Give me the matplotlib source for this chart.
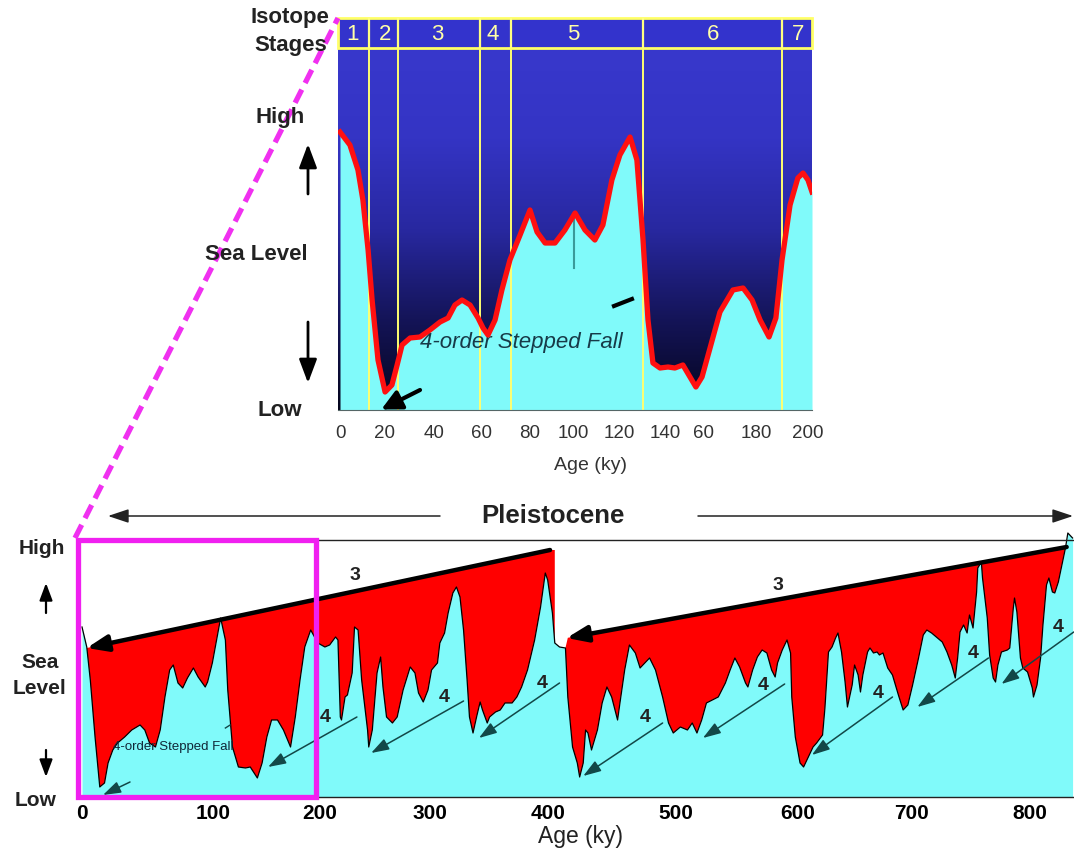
import numpy as np
import matplotlib
matplotlib.use('Agg')
import matplotlib.pyplot as plt
from matplotlib.colors import LinearSegmentedColormap
from matplotlib.patches import Rectangle

plt.rcParams['font.family'] = ['Liberation Sans', 'DejaVu Sans']

# ---- top panel: last 200 ky (age ky, relative sea level) ----
top_curve = [(0, 278), (4.2, 265), (7.6, 240), (9.7, 210), (11.9, 160), (13.6, 110),
             (16.1, 50), (19.1, 18), (22, 25), (24.2, 45), (26.3, 65), (29.7, 72),
             (33.9, 73), (38.1, 80), (42.4, 88), (45.8, 92), (48.7, 105), (51.7, 110),
             (55.1, 105), (58.5, 92), (60.6, 82), (62.7, 75), (65.7, 90), (68.6, 120),
             (72, 150), (76.3, 175), (80.5, 200), (83.5, 178), (86.9, 167), (91.1, 167),
             (95.3, 180), (99.6, 197), (103.8, 180), (108, 170), (111.4, 185), (115.2, 230),
             (118.6, 255), (122.9, 273), (125.8, 250), (128.4, 170), (130.5, 90), (132.6, 47),
             (135.6, 42), (139, 43), (141.9, 42), (145.3, 45), (148.3, 33), (150.8, 23),
             (153.4, 33), (156.8, 62), (161, 98), (166.5, 120), (170.8, 122), (174.6, 110),
             (178, 90), (181.8, 73), (184.7, 92), (187.3, 150), (190.7, 205), (194, 232),
             (196.2, 237), (198.3, 230), (200, 218)]
stage_bounds = [12.3, 24.6, 59.3, 72.4, 128.4, 187.3]
stage_names = ['1', '2', '3', '4', '5', '6', '7']
stage_pos = [5.5, 19.1, 41.1, 64.8, 98.7, 158, 194]
top_tick_pos = [0.4, 19, 40, 60, 80.5, 99, 118.5, 138, 154, 176.5, 198]
top_tick_lab = ['0', '20', '40', '60', '80', '100', '120', '140', '60', '180', '200']

# ---- bottom panel: Pleistocene record ----
bottom_curve = [(0, 170), (4, 150), (7, 117), (11, 60), (15, 10), (19, 14), (22, 34), (26, 47),
                (30, 54), (36, 60), (42, 67), (49, 72), (53, 67), (57, 54), (62, 50), (66, 67),
                (70, 100), (74, 127), (77, 132), (81, 114), (85, 109), (89, 119), (94, 129),
                (98, 120), (104, 110), (106, 115), (110, 134), (114, 160), (117, 179), (121, 157),
                (123, 107), (127, 50), (132, 30), (138, 29), (142, 30), (148, 19), (152, 34),
                (156, 60), (160, 77), (165, 77), (170, 67), (176, 50), (180, 80), (184, 117),
                (188, 150), (193, 167), (199, 154), (205, 150), (209, 152), (214, 160), (216, 157),
                (218, 80), (219, 77), (222, 100), (224, 102), (228, 124), (230, 170), (233, 167),
                (236, 117), (241, 67), (242, 50), (245, 67), (249, 124), (252, 140), (254, 110),
                (257, 80), (262, 74), (266, 80), (271, 107), (277, 130), (281, 124), (284, 104),
                (288, 95), (292, 107), (295, 127), (300, 134), (302, 154), (306, 164), (309, 184),
                (313, 204), (316, 210), (319, 200), (322, 167), (325, 117), (327, 80), (330, 64),
                (333, 80), (336, 95), (338, 87), (342, 74), (344, 80), (349, 85), (353, 87),
                (357, 94), (363, 94), (367, 100), (371, 110), (376, 127), (382, 157), (387, 190),
                (391, 224), (393, 217), (397, 184), (399, 154), (403, 150), (408, 149), (410, 100),
                (414, 50), (418, 34), (420, 20), (423, 34), (425, 67), (427, 64), (430, 47),
                (435, 67), (439, 94), (443, 110), (447, 100), (452, 77), (454, 94), (458, 127),
                (462, 152), (467, 144), (471, 129), (475, 134), (479, 139), (484, 127), (490, 100),
                (495, 74), (499, 64), (505, 70), (511, 67), (515, 74), (519, 64), (523, 77),
                (527, 94), (532, 97), (537, 100), (543, 114), (547, 127), (551, 139), (555, 130),
                (560, 114), (562, 110), (566, 127), (570, 140), (574, 147), (578, 144), (582, 127),
                (585, 120), (587, 134), (591, 147), (595, 157), (598, 144), (599, 100), (602, 60),
                (606, 34), (609, 30), (613, 40), (617, 50), (620, 54), (625, 62), (627, 89),
                (630, 145), (633, 150), (636, 159), (638, 164), (641, 145), (644, 115), (646, 90),
                (650, 112), (652, 132), (655, 122), (657, 105), (659, 122), (663, 145), (665, 149),
                (668, 144), (671, 145), (673, 142), (676, 144), (680, 129), (684, 122), (689, 102),
                (693, 87), (697, 92), (701, 112), (706, 139), (710, 162), (713, 167), (717, 164),
                (722, 159), (726, 155), (730, 145), (734, 132), (737, 119), (739, 139), (741, 165),
                (744, 172), (747, 164), (749, 182), (752, 169), (755, 205), (756, 229), (759, 235),
                (760, 219), (764, 179), (766, 142), (769, 119), (771, 115), (773, 132), (776, 145),
                (781, 147), (783, 149), (786, 189), (787, 199), (789, 185), (792, 139), (794, 129),
                (798, 125), (802, 109), (803, 100), (806, 112), (809, 139), (811, 172), (814, 212),
                (816, 219), (819, 205), (821, 204), (824, 215), (827, 232), (830, 249), (832, 264),
                (836, 259)]
# 3rd-order envelopes: (age0, level0, age1, level1, red fill end, label age, label level)
third_order = [(4, 149, 395, 247, 399, 230, 221),
               (409, 159, 831, 250, 831, 587, 211)]
# 4th-order stepped falls: start, end, label position
fourth_order = [(40.5, 15, 17.7, 2, None, None),
                (232, 80, 157, 30, 205, 79),
                (322, 96, 244, 44, 306, 100),
                (403, 114, 335, 59, 388, 113),
                (490, 74, 423, 21, 475, 79),
                (593, 113, 524, 59, 575, 112),
                (684, 100, 616, 42, 672, 104),
                (765, 139, 705, 90, 752, 144),
                (837, 165, 776, 113, 824, 169)]
bot_tick_pos = [0, 111, 201, 294, 393, 501, 604, 700, 800]
bot_tick_lab = ['0', '100', '200', '300', '400', '500', '600', '700', '800']

CYAN = '#80fafa'
RED = '#ff0000'
TEAL = '#124848'

fig = plt.figure(figsize=(10.74, 8.52), dpi=100)
W, H = 1074, 852

# ================= top panel =================
ax = fig.add_axes([338 / W, 1 - 410 / H, 474 / W, 392 / H])
t_age, t_lev = map(np.array, zip(*top_curve))
xl = (-0.85, 200)
cmap = LinearSegmentedColormap.from_list('sea', ['#05051c', '#141458', '#2828a0', '#3434c4', '#3838cc'])
grad = np.linspace(0, 1, 256).reshape(-1, 1)
ax.imshow(grad, extent=(xl[0], xl[1], 0, 362), origin='lower', cmap=cmap, aspect='auto', zorder=0)
ax.fill_between(t_age, 0, t_lev, color=CYAN, lw=0, zorder=1)
ax.vlines(stage_bounds, 0, 392, colors='#ffff70', lw=1.4, zorder=1.5)
ax.text(34, 67, '4-order Stepped Fall', fontsize=16, style='italic', color='#173a48',
        ha='left', va='center', zorder=2)
ax.plot(t_age, t_lev, color='#ff1010', lw=3.8, zorder=3, solid_joinstyle='round')
ax.plot([99.1, 99.1], [142, 195], color='#3a9a9a', lw=1.5, zorder=2)
ax.plot([116.1, 123.7], [104, 111], color='k', lw=3, zorder=3)
ax.annotate('', xy=(17.5, 0.5), xytext=(33.9, 20),
            arrowprops=dict(arrowstyle='-|>', lw=3, color='k', mutation_scale=30,
                            shrinkA=0, shrinkB=0), zorder=4)
ax.add_patch(Rectangle((xl[0], 362), xl[1] - xl[0], 30, fc='#3333cc', ec='#ffff66',
                       lw=2, zorder=4, clip_on=False))
ax.vlines(stage_bounds, 362, 392, colors='#ffff80', lw=1.6, zorder=5)
for name, pos in zip(stage_names, stage_pos):
    ax.text(pos, 376, name, ha='center', va='center', color='#ffffa8', fontsize=16, zorder=6)
ax.set_xlim(*xl)
ax.set_ylim(0, 392)
ax.set_yticks([])
ax.set_xticks(top_tick_pos, top_tick_lab)
ax.tick_params(axis='x', length=0, pad=11, labelsize=13.5, labelcolor='#333333')
for s in ['top', 'left', 'right']:
    ax.spines[s].set_visible(False)
ax.spines['bottom'].set_color('#556666')

# ================= bottom panel =================
ax2 = fig.add_axes([80 / W, 1 - 797 / H, (W - 80) / W, 257 / H])
b_age, b_lev = map(np.array, zip(*bottom_curve))
ax2.fill_between(b_age, 0, b_lev, color=CYAN, lw=0, zorder=1, clip_on=False)
for a0, l0, a1, l1, fend, la, ll in third_order:
    line_vals = np.interp(b_age, [a0, a1], [l0, l1])
    mask = (b_age >= a0) & (b_age <= fend)
    ax2.fill_between(b_age, b_lev, line_vals, where=mask & (b_lev < line_vals),
                     interpolate=True, color=RED, lw=0, zorder=1.2)
ax2.plot(b_age, b_lev, color='k', lw=0.9, zorder=2, clip_on=False)
for a0, l0, a1, l1, fend, la, ll in third_order:
    ax2.annotate('', xy=(a0, l0), xytext=(a1, l1),
                 arrowprops=dict(arrowstyle='-|>,head_length=0.9,head_width=0.35', lw=3.2,
                                 color='k', mutation_scale=14, shrinkA=0, shrinkB=0), zorder=3)
    ax2.text(la, ll, '3', fontsize=14, fontweight='bold', ha='center', va='center',
             color='#222222', zorder=4)
for a0, l0, a1, l1, la, ll in fourth_order:
    ax2.annotate('', xy=(a1, l1), xytext=(a0, l0),
                 arrowprops=dict(arrowstyle='-|>,head_length=0.9,head_width=0.3', lw=1.1,
                                 color=TEAL, mutation_scale=12, shrinkA=0, shrinkB=0),
                 zorder=3, annotation_clip=False)
    if la is not None:
        ax2.text(la, ll, '4', fontsize=14, fontweight='bold', ha='center', va='center',
                 color='#222222', zorder=4)
ax2.plot([121, 125], [69, 72], color=TEAL, lw=1, zorder=3)
ax2.text(26, 50, '4-order Stepped Fall', fontsize=9.5, color='#102838',
         ha='left', va='center', zorder=4)
ax2.set_xlim(-1.7, 837.2)
ax2.set_ylim(0, 257)
ax2.set_yticks([])
ax2.set_xticks(bot_tick_pos, bot_tick_lab)
ax2.tick_params(axis='x', length=0, pad=5, labelsize=15)
for lab in ax2.get_xticklabels():
    lab.set_fontweight('bold')
for s in ['left', 'right']:
    ax2.spines[s].set_visible(False)
for s in ['top', 'bottom']:
    ax2.spines[s].set_color('#222222')
    ax2.spines[s].set_linewidth(1)

# ================= overlay: labels, connectors =================
ov = fig.add_axes([0, 0, 1, 1])
ov.set_xlim(0, W)
ov.set_ylim(H, 0)
ov.axis('off')

bold = dict(fontweight='bold', color='#222222', ha='center', va='center')
ov.text(290, 18, 'Isotope', fontsize=16, **bold)
ov.text(291, 45, 'Stages', fontsize=16, **bold)
ov.text(280, 118, 'High', fontsize=16, **bold)
ov.text(256, 255, 'Sea Level', fontsize=16, **bold)
ov.text(280, 410, 'Low', fontsize=16, **bold)
arr = dict(arrowstyle='-|>,head_length=0.8,head_width=0.3', lw=2, color='k',
           mutation_scale=18, shrinkA=0, shrinkB=0)
ov.annotate('', xy=(308, 144), xytext=(308, 194), arrowprops=arr)
ov.annotate('', xy=(308, 383), xytext=(308, 322), arrowprops=arr)
ov.text(590, 465, 'Age (ky)', fontsize=14, color='#333333', ha='center', va='center')

ov.text(42, 549, 'High', fontsize=15, **bold)
ov.text(40, 662, 'Sea', fontsize=15, **bold)
ov.text(40, 688, 'Level', fontsize=15, **bold)
ov.text(36, 800, 'Low', fontsize=15, **bold)
arr2 = dict(arrowstyle='-|>,head_length=0.8,head_width=0.3', lw=1.6, color='k',
            mutation_scale=13, shrinkA=0, shrinkB=0)
ov.annotate('', xy=(46, 583), xytext=(46, 613), arrowprops=arr2)
ov.annotate('', xy=(46, 777), xytext=(46, 750), arrowprops=arr2)
ov.text(580, 836, 'Age (ky)', fontsize=16.5, color='#222222', ha='center', va='center')

ov.text(553, 516, 'Pleistocene', fontsize=18.5, **bold)
arr3 = dict(arrowstyle='-|>,head_length=0.9,head_width=0.3', lw=1.1, color='#222222',
            mutation_scale=14, shrinkA=0, shrinkB=0)
ov.annotate('', xy=(108, 516), xytext=(440, 516), arrowprops=arr3)
ov.annotate('', xy=(1073, 516), xytext=(698, 516), arrowprops=arr3)

ov.add_patch(Rectangle((78, 540), 238, 257, fill=False, ec='#f020f0', lw=3.8))
ov.plot([75, 338], [538, 18], color='#f030f0', lw=3.8, linestyle=(0, (2.8, 1.4)))

fig.savefig('out.png', dpi=100)
